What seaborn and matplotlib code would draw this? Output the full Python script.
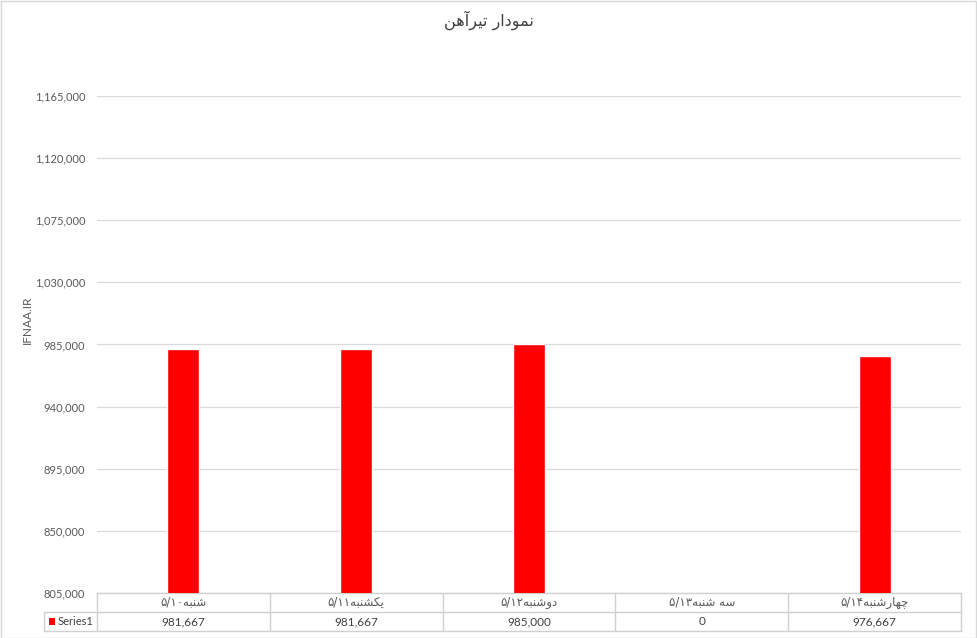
import matplotlib
matplotlib.use("Agg")
import matplotlib.pyplot as plt
from matplotlib.lines import Line2D
from matplotlib.patches import Rectangle
import matplotlib.transforms as mtransforms
from matplotlib.ticker import FuncFormatter
import seaborn as sns
import pandas as pd

# ---------------- data ----------------
day_names = ["شنبه", "یکشنبه", "دوشنبه", "سه شنبه", "چهارشنبه"]
day_dates = ["۵/۱۰", "۵/۱۱", "۵/۱۲", "۵/۱۳", "۵/۱۴"]
values = [981667, 981667, 985000, 0, 976667]
value_labels = ["981,667", "981,667", "985,000", "0", "976,667"]
series_name = "Series1"
title_text = "نمودار تیرآهن"
y_label = "IFNAA.IR"
y_ticks = [805000, 850000, 895000, 940000, 985000, 1030000, 1075000, 1120000, 1165000]

# ------------- minimal Arabic/Persian shaping -------------
FORMS = {
    "ا": ("\uFE8D", "\uFE8E"),
    "آ": ("\uFE81", "\uFE82"),
    "د": ("\uFEA9", "\uFEAA"),
    "ر": ("\uFEAD", "\uFEAE"),
    "و": ("\uFEED", "\uFEEE"),
    "ب": ("\uFE8F", "\uFE90", "\uFE91", "\uFE92"),
    "ت": ("\uFE95", "\uFE96", "\uFE97", "\uFE98"),
    "چ": ("\uFB7A", "\uFB7B", "\uFB7C", "\uFB7D"),
    "س": ("\uFEB1", "\uFEB2", "\uFEB3", "\uFEB4"),
    "ش": ("\uFEB5", "\uFEB6", "\uFEB7", "\uFEB8"),
    "ک": ("\uFB8E", "\uFB8F", "\uFB90", "\uFB91"),
    "م": ("\uFEE1", "\uFEE2", "\uFEE3", "\uFEE4"),
    "ن": ("\uFEE5", "\uFEE6", "\uFEE7", "\uFEE8"),
    "ه": ("\uFEE9", "\uFEEA", "\uFEEB", "\uFEEC"),
    "ی": ("\uFBFC", "\uFBFD", "\uFBFE", "\uFBFF"),
}


def shape(word):
    out = []
    n = len(word)
    for i, ch in enumerate(word):
        if ch not in FORMS:
            out.append(ch)
            continue
        f = FORMS[ch]
        prev = word[i - 1] if i > 0 else None
        nxt = word[i + 1] if i < n - 1 else None
        jp = prev is not None and prev in FORMS and len(FORMS[prev]) == 4
        jn = len(f) == 4 and nxt is not None and nxt in FORMS
        if jp and jn:
            out.append(f[3])
        elif jp:
            out.append(f[1])
        elif jn:
            out.append(f[2])
        else:
            out.append(f[0])
    return "".join(out)


def visual(text):
    return shape(text)[::-1]


# ---------------- figure ----------------
sns.set_theme(style="white")
plt.rcParams["font.family"] = ["Lato", "DejaVu Sans"]
text_col = "#595959"
grid_col = "#d9d9d9"

fig = plt.figure(figsize=(9.77, 6.38), dpi=100)
ax = fig.add_axes([97 / 977, 1 - 593 / 638, 864 / 977, 497 / 638])

df = pd.DataFrame({"cat": [str(i) for i in range(len(values))], "val": values})
sns.barplot(data=df, x="cat", y="val", color="#ff0000", saturation=1,
            width=0.185, ax=ax, zorder=3)

ax.set_xlim(-0.5, len(values) - 0.5)
ax.set_ylim(y_ticks[0], y_ticks[-1])
ax.set_yticks(y_ticks)
ax.yaxis.set_major_formatter(FuncFormatter(lambda v, p: f"{int(v):,}"))
ax.tick_params(axis="y", length=0, pad=8.5, labelsize=8, labelcolor=text_col)
ax.set_xticks([])
ax.set_xlabel("")
ax.set_ylabel(y_label, color=text_col, fontsize=8.5)
ax.yaxis.set_label_coords((33 - 97) / 864, (593 - 320) / 497)
ax.yaxis.grid(True, color=grid_col, linewidth=0.9, zorder=0)
ax.set_axisbelow(True)
for s in ax.spines.values():
    s.set_visible(False)

fig.text(0.5, 1 - 20 / 638, visual(title_text), ha="center", va="center",
         fontsize=11.5, color="#404040", family="DejaVu Sans")

# ---------------- data table ----------------
line_col = "#d0d0d0"
row1 = -(612 - 593) / 497
row2 = -(631 - 593) / 497
left_col = (44 - 97) / 864
trans = mtransforms.blended_transform_factory(ax.transData, ax.transAxes)

def hline(x0, x1, y):
    ax.add_line(Line2D([x0, x1], [y, y], transform=ax.transAxes, color=line_col,
                       lw=1, clip_on=False))

def vline(x, y0, y1, tr):
    ax.add_line(Line2D([x, x], [y0, y1], transform=tr, color=line_col,
                       lw=1, clip_on=False))

hline(0, 1, 0)
hline(left_col, 1, row1)
hline(left_col, 1, row2)
vline(left_col, row1, row2, ax.transAxes)
for b in range(len(values) + 1):
    vline(b - 0.5, 0, row2, trans)

for i in range(len(values)):
    lab = day_dates[i] + visual(day_names[i])
    ax.text(i, (0 + row1) / 2, lab, transform=trans, ha="center", va="center",
            fontsize=8.5, color=text_col, family="DejaVu Sans")
    ax.text(i, (row1 + row2) / 2, value_labels[i], transform=trans, ha="center",
            va="center", fontsize=8.5, color="#404040")

ax.add_patch(Rectangle((left_col + 5 / 864, (row1 + row2) / 2 - 3.5 / 497),
                       6 / 864, 7 / 497, transform=ax.transAxes,
                       facecolor="#ff0000", edgecolor="none", clip_on=False))
ax.text(left_col + 14 / 864, (row1 + row2) / 2, series_name, transform=ax.transAxes,
        ha="left", va="center", fontsize=8, color="#404040")

# outer chart border
fig.patches.append(Rectangle((0.5 / 977, 0.5 / 638), 975.5 / 977, 636.5 / 638,
                             transform=fig.transFigure, fill=False,
                             edgecolor="#d9d9d9", lw=1))

fig.savefig("out.png", dpi=100)
